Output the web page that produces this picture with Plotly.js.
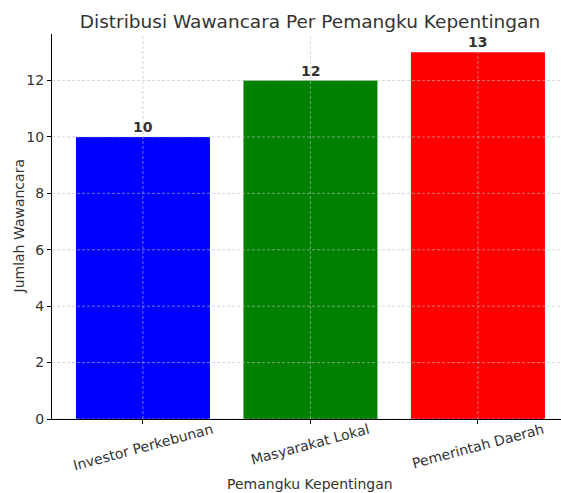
<!DOCTYPE html>
<html>
<head>
<meta charset="utf-8">
<script src="https://cdn.plot.ly/plotly-3.0.1.min.js"></script>
<style>html,body{margin:0;padding:0;background:#fff;}#chart{width:561px;height:493px;}</style>
</head>
<body>
<div id="chart"></div>
<script>
const categories = ["Investor Perkebunan", "Masyarakat Lokal", "Pemerintah Daerah"];
const values = [10, 12, 13];
const colors = ["#0000ff", "#008000", "#ff0000"];
const yTicks = [0, 2, 4, 6, 8, 10, 12];

const font = "DejaVu Sans, sans-serif";
const textColor = "#333333";
const gridLine = {color: "rgba(190,190,190,0.75)", width: 0.8, dash: "3px,2px"};

const gridShapes = [];
yTicks.forEach(v => gridShapes.push({
  type: "line", xref: "paper", yref: "y", x0: 0, x1: 1, y0: v, y1: v, line: gridLine, layer: "above"
}));
categories.forEach((c, i) => gridShapes.push({
  type: "line", xref: "x", yref: "paper", x0: i, x1: i, y0: 0, y1: 1, line: gridLine, layer: "above"
}));

const tickAnnotations = categories.map((c, i) => ({
  text: c, x: i, xref: "x", y: 0, yref: "paper",
  xanchor: "center", yanchor: "top", yshift: 1, textangle: -15,
  showarrow: false, font: {family: font, size: 14, color: textColor}
}));

const valueAnnotations = values.map((v, i) => ({
  text: "<b>" + v + "</b>", x: i, xref: "x", y: v, yref: "y",
  xanchor: "center", yanchor: "bottom", yshift: 0,
  showarrow: false, font: {family: font, size: 14, color: textColor}
}));

const trace = {
  type: "bar",
  x: [0, 1, 2],
  y: values,
  width: 0.8,
  marker: {color: colors, line: {width: 0}},
  hoverinfo: "none"
};

const layout = {
  width: 561, height: 493,
  margin: {l: 52, r: 0, t: 34, b: 74},
  paper_bgcolor: "#ffffff", plot_bgcolor: "#ffffff",
  showlegend: false,
  font: {family: font, color: textColor},
  title: {text: "Distribusi Wawancara Per Pemangku Kepentingan", font: {family: font, size: 18.5, color: textColor},
          x: 310/561, xanchor: "center", y: 0.957, yanchor: "middle"},
  xaxis: {
    range: [-0.543, 2.496],
    tickvals: [0, 1, 2], showticklabels: false,
    showgrid: false, zeroline: false,
    showline: true, linecolor: "#000000", linewidth: 1,
    ticks: "outside", ticklen: 4, tickcolor: "#000000"
  },
  yaxis: {
    range: [0, 13.65],
    tickvals: yTicks,
    tickfont: {family: font, size: 14, color: textColor},
    showgrid: false, zeroline: false,
    showline: true, linecolor: "#000000", linewidth: 1,
    ticks: "outside", ticklen: 4, tickcolor: "#000000"
  },
  annotations: tickAnnotations.concat(valueAnnotations, [{
    text: "Pemangku Kepentingan", x: (310 - 52) / 509, xref: "paper", xanchor: "center",
    y: 0, yref: "paper", yanchor: "middle", yshift: -65,
    showarrow: false, font: {family: font, size: 14, color: textColor}
  }, {
    text: "Jumlah Wawancara", x: 0, xref: "paper", xanchor: "center", xshift: -34,
    y: 0.5, yref: "paper", yanchor: "middle", textangle: -90,
    showarrow: false, font: {family: font, size: 14, color: textColor}
  }]),
  shapes: gridShapes
};

Plotly.newPlot("chart", [trace], layout, {displayModeBar: false, staticPlot: true});
</script>
</body>
</html>
